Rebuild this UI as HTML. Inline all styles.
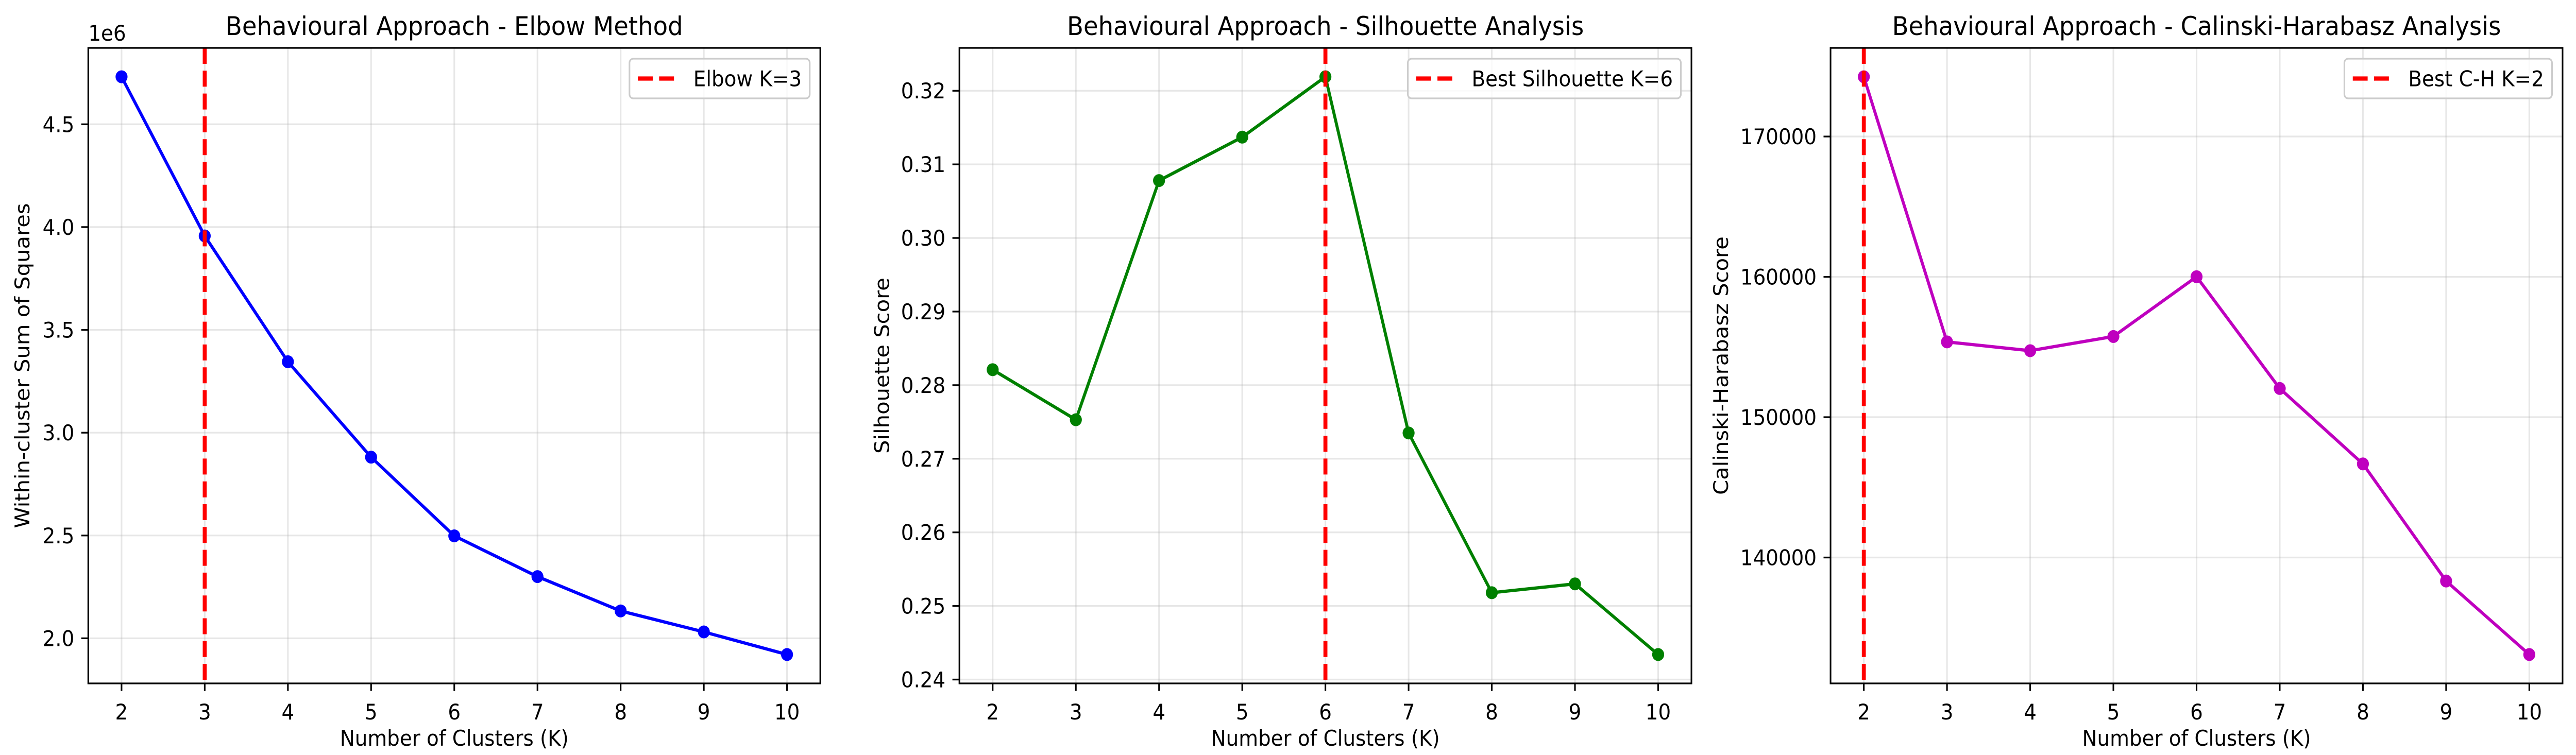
<!DOCTYPE html>
<html><head><meta charset="utf-8"><style>
html,body{margin:0;padding:0;background:#fff;overflow:hidden;width:100%;height:100%;}
svg{display:block;position:absolute;left:0;top:0;width:100vw;height:100vh;font-family:"DejaVu Sans","Liberation Sans",sans-serif;}
</style></head><body>
<svg id="fig" viewBox="0 0 5370 1466" preserveAspectRatio="none" xmlns="http://www.w3.org/2000/svg">
<rect width="5370" height="1466" fill="#fff"/>
</svg>
<script>
const categories = [2,3,4,5,6,7,8,9,10];
const elbowValues = [4.731e6,3.957e6,3.345e6,2.881e6,2.498e6,2.300e6,2.133e6,2.031e6,1.921e6];
const silhouetteValues = [0.2821,0.2753,0.3078,0.3137,0.3219,0.2735,0.2518,0.2530,0.2434];
const chValues = [174257,155365,154737,155749,160009,152047,146670,138324,133086];
const elbowTicks = [2.0e6,2.5e6,3.0e6,3.5e6,4.0e6,4.5e6];
const elbowTickLabels = ["2.0","2.5","3.0","3.5","4.0","4.5"];
const silTicks = [0.24,0.25,0.26,0.27,0.28,0.29,0.30,0.31,0.32];
const silTickLabels = ["0.24","0.25","0.26","0.27","0.28","0.29","0.30","0.31","0.32"];
const chTicks = [140000,150000,160000,170000];
const chTickLabels = ["140000","150000","160000","170000"];
const bestK = [3,6,2];
const titles = ["Behavioural Approach - Elbow Method","Behavioural Approach - Silhouette Analysis","Behavioural Approach - Calinski-Harabasz Analysis"];
const yTitles = ["Within-cluster Sum of Squares","Silhouette Score","Calinski-Harabasz Score"];
const legendLabels = ["Elbow K=3","Best Silhouette K=6","Best C-H K=2"];

(function(){
const NS="http://www.w3.org/2000/svg";
const svg=document.getElementById('fig');
function mk(tag,attrs,parent){const e=document.createElementNS(NS,tag);for(const k in attrs)e.setAttribute(k,attrs[k]);(parent||svg).appendChild(e);return e;}

const panels=[
 {left:184,vals:elbowValues,ticks:elbowTicks,labels:elbowTickLabels,color:"#0000ff",ylx:46,name:"elbow"},
 {left:2000,vals:silhouetteValues,ticks:silTicks,labels:silTickLabels,color:"#008000",ylx:1838,name:"silhouette"},
 {left:3816,vals:chValues,ticks:chTicks,labels:chTickLabels,color:"#bf00bf",ylx:3587,name:"calinski"}
];
const axTop=93,axBottom=1327,W=1526;
const fs=41.7;

panels.forEach((p,i)=>{
  const g=mk('g',{});
  
  
  const x0=1.6,x1=10.4;
  const mn=Math.min(...p.vals),mx=Math.max(...p.vals),r=mx-mn;
  const y0=mn-0.05*r,y1=mx+0.05*r;
  const X=v=>p.left+(v-x0)/(x1-x0)*W;
  const Y=v=>axBottom-(v-y0)/(y1-y0)*(axBottom-axTop);
  categories.forEach(c=>{const l=mk('line',{x1:X(c),x2:X(c),y1:axTop,y2:axBottom,stroke:"#b0b0b0","stroke-opacity":0.3,"stroke-width":3.3},g);
    
    });
  p.ticks.forEach(t=>{const l=mk('line',{x1:p.left,x2:p.left+W,y1:Y(t),y2:Y(t),stroke:"#b0b0b0","stroke-opacity":0.3,"stroke-width":3.3},g);
    
    });
  const pts=categories.map((c,j)=>X(c)+','+Y(p.vals[j])).join(' ');
  const pl=mk('polyline',{points:pts,fill:"none",stroke:p.color,"stroke-width":6.25,"stroke-linejoin":"round"},g);
  
  
  categories.forEach((c,j)=>{const m=mk('circle',{cx:X(c),cy:Y(p.vals[j]),r:12.5,fill:p.color},g);
    
    });
  const rl=mk('line',{x1:X(bestK[i]),x2:X(bestK[i]),y1:axTop,y2:axBottom,stroke:"#ff0000","stroke-width":8.3,"stroke-dasharray":"31 13.3"},g);
  
  
  const fr=mk('rect',{x:p.left,y:axTop,width:W,height:axBottom-axTop,fill:"none",stroke:"#000","stroke-width":3.3},g);
  
  
  categories.forEach(c=>{mk('line',{x1:X(c),x2:X(c),y1:axBottom,y2:axBottom+14.6,stroke:"#000","stroke-width":3.3},g);
    const t=mk('text',{x:X(c),y:1397,"font-size":fs,"text-anchor":"middle"},g);t.textContent=c;
    
    });
  p.ticks.forEach((tv,j)=>{mk('line',{x1:p.left-14.6,x2:p.left,y1:Y(tv),y2:Y(tv),stroke:"#000","stroke-width":3.3},g);
    const t=mk('text',{x:p.left-29,y:Y(tv)+15,"font-size":fs,"text-anchor":"end"},g);t.textContent=p.labels[j];
    
    });
  if(i===0){const t=mk('text',{x:p.left,y:79,"font-size":fs},g);t.textContent="1e6";
    
    }
  const tt=mk('text',{x:p.left+W/2,y:68,"font-size":50,"text-anchor":"middle"},g);tt.textContent=titles[i];
  
  
  const xl=mk('text',{x:p.left+W/2,y:1448,"font-size":fs,"text-anchor":"middle"},g);xl.textContent="Number of Clusters (K)";
  
  
  const yl=mk('text',{x:0,y:0,"font-size":fs,"text-anchor":"middle",transform:`translate(${p.ylx+15},${(axTop+axBottom)/2}) rotate(-90)`},g);yl.textContent=yTitles[i];
  
  
  const lg=mk('g',{},g);
  
  
  const txt=mk('text',{x:0,y:0,"font-size":fs},lg);txt.textContent=legendLabels[i];
  let tw=txt.getComputedTextLength();
  if(!tw||!isFinite(tw)) tw=legendLabels[i].length*fs*0.58;
  const right=p.left+W-22, bx=right-(16.7+83+33.4+tw+16.7), by=114, bh=77;
  const box=mk('rect',{x:bx,y:by,width:right-bx,height:bh,rx:8,fill:"#fff","fill-opacity":0.8,stroke:"#cccccc","stroke-width":3.3},lg);
  lg.insertBefore(box,txt);
  mk('line',{x1:bx+17.5,x2:bx+100.5,y1:by+bh/2,y2:by+bh/2,stroke:"#ff0000","stroke-width":8.3,"stroke-dasharray":"31 13.3"},lg);
  txt.setAttribute('x',bx+16.7+83+33.4);
  txt.setAttribute('y',by+bh/2+15);
});
})();
</script>
</body></html>
